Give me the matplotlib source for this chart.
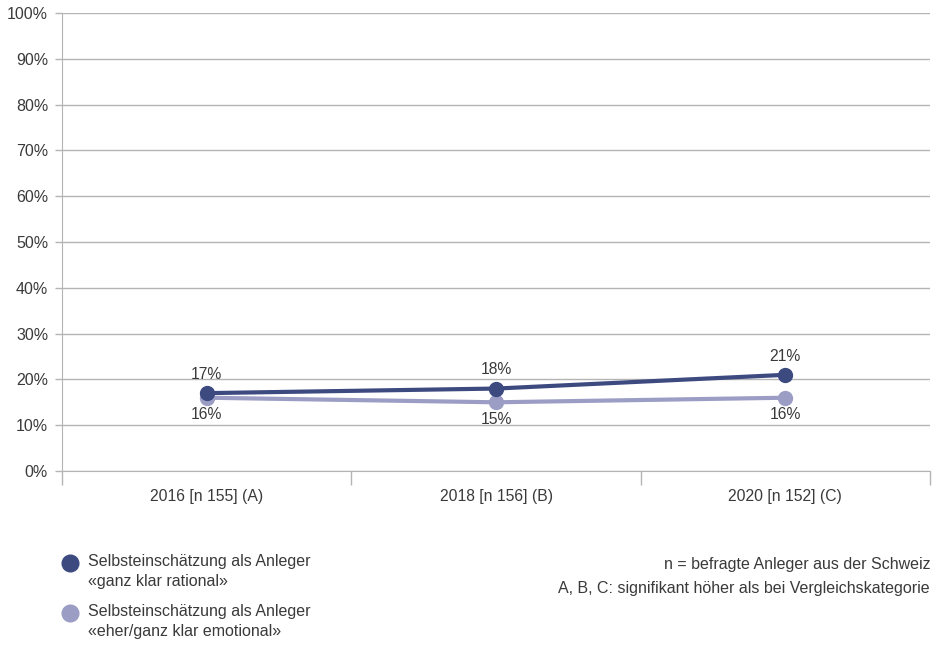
import matplotlib.pyplot as plt
from matplotlib.lines import Line2D

plt.rcParams['font.family'] = ['Liberation Sans', 'DejaVu Sans']

# Daten
categories = ['2016 [n 155] (A)', '2018 [n 156] (B)', '2020 [n 152] (C)']
rational = [17, 18, 21]
emotional = [16, 15, 16]
y_ticks = list(range(0, 101, 10))

DARK = '#3c4a80'
LIGHT = '#9b9dc5'
GRID = '#b4b4b4'
TEXT = '#3a3a3a'

fig = plt.figure(figsize=(9.43, 6.5), dpi=100)
ax = fig.add_axes([62 / 943, 1 - 471 / 650, (930 - 62) / 943, (471 - 13) / 650])

x = list(range(len(categories)))
ax.plot(x, emotional, '-o', color=LIGHT, lw=3, ms=10, zorder=3)
ax.plot(x, rational, '-o', color=DARK, lw=3, ms=10, zorder=4)

for i, v in enumerate(rational):
    ax.annotate(f'{v}%', (i, v), xytext=(0, 8), textcoords='offset points',
                ha='center', va='bottom', fontsize=11.3, color=TEXT)
for i, v in enumerate(emotional):
    ax.annotate(f'{v}%', (i, v), xytext=(0, -7), textcoords='offset points',
                ha='center', va='top', fontsize=11.3, color=TEXT)

ax.set_xlim(-0.5, 2.5)
ax.set_ylim(0, 100)
ax.set_yticks(y_ticks)
ax.set_yticklabels([f'{t}%' for t in y_ticks], fontsize=11.5, color=TEXT)
ax.yaxis.grid(True, color=GRID, lw=1)
ax.set_axisbelow(True)

ax.set_xticks([-0.5, 0.5, 1.5, 2.5])
ax.set_xticklabels([])
ax.set_xticks(x, minor=True)
ax.set_xticklabels(categories, minor=True, fontsize=11.3, color=TEXT)
ax.tick_params(axis='x', which='major', direction='out', length=10, color=GRID, width=1)
ax.tick_params(axis='x', which='minor', length=0, pad=13)
ax.tick_params(axis='y', direction='out', length=5, color=GRID, width=1, pad=5)

for s in ['top', 'right']:
    ax.spines[s].set_visible(False)
ax.spines['left'].set_color(GRID)
ax.spines['bottom'].set_color(GRID)

# Legende
for yy, col in [(563, DARK), (613, LIGHT)]:
    fig.add_artist(Line2D([70 / 943], [1 - yy / 650], marker='o', ms=12,
                          color=col, transform=fig.transFigure))
fig.text(88 / 943, 1 - 554 / 650, 'Selbsteinschätzung als Anleger\n«ganz klar rational»',
         fontsize=11.5, color=TEXT, va='top', ha='left', linespacing=1.45)
fig.text(88 / 943, 1 - 604 / 650, 'Selbsteinschätzung als Anleger\n«eher/ganz klar emotional»',
         fontsize=11.5, color=TEXT, va='top', ha='left', linespacing=1.45)

fig.text(930 / 943, 1 - 564 / 650, 'n = befragte Anleger aus der Schweiz',
         fontsize=11.5, color=TEXT, ha='right', va='center')
fig.text(930 / 943, 1 - 588 / 650, 'A, B, C: signifikant höher als bei Vergleichskategorie',
         fontsize=11.5, color=TEXT, ha='right', va='center')

fig.savefig('out.png', dpi=100)
